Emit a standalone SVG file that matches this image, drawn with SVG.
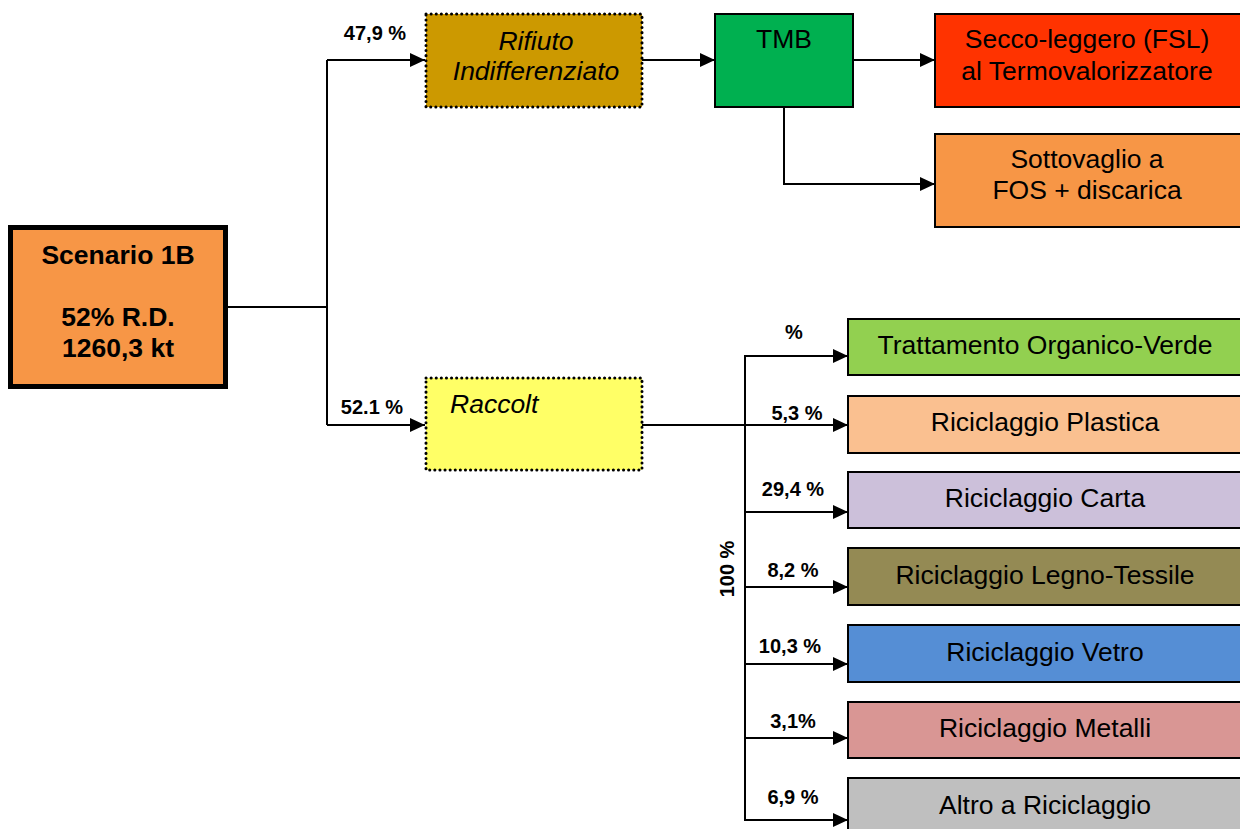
<svg xmlns="http://www.w3.org/2000/svg" width="1240" height="829" viewBox="0 0 1240 829">
<defs>
<marker id="ah" markerUnits="userSpaceOnUse" markerWidth="15" markerHeight="14" refX="15" refY="7" orient="auto">
<path d="M0,0 L15,7 L0,14 Z" fill="#000"/>
</marker>
<style>
.box{stroke:#000;stroke-width:2}
.dot{stroke:#000;stroke-width:3;stroke-dasharray:0.1 5;stroke-linecap:round}
.t{font-family:"Liberation Sans",Arial,sans-serif;font-size:26.5px;fill:#000;text-anchor:middle}
.i{font-style:italic}
.b{font-weight:bold}
.lbl{font-family:"Liberation Sans",Arial,sans-serif;font-size:20px;font-weight:bold;fill:#000;text-anchor:middle}
.c{fill:none;stroke:#000;stroke-width:2}
</style>
</defs>
<rect width="1240" height="829" fill="#fff"/>
<g id="connectors">
<path class="c" d="M228,307 H327"/>
<path class="c" d="M327,60 V425"/>
<path class="c" d="M327,60 H425" marker-end="url(#ah)"/>
<path class="c" d="M327,425 H425" marker-end="url(#ah)"/>
<path class="c" d="M642,60 H715" marker-end="url(#ah)"/>
<path class="c" d="M853,60 H935" marker-end="url(#ah)"/>
<path class="c" d="M784,107 V184 H935" marker-end="url(#ah)"/>
<path class="c" d="M642,425 H848" marker-end="url(#ah)"/>
<path class="c" d="M745,355 V821"/>
<path class="c" d="M745,356 H848" marker-end="url(#ah)"/>
<path class="c" d="M745,512 H848" marker-end="url(#ah)"/>
<path class="c" d="M745,587 H848" marker-end="url(#ah)"/>
<path class="c" d="M745,664 H848" marker-end="url(#ah)"/>
<path class="c" d="M745,738 H848" marker-end="url(#ah)"/>
<path class="c" d="M745,820 H848" marker-end="url(#ah)"/>
<text class="lbl" x="375" y="40">47,9 %</text>
<text class="lbl" x="372" y="414">52.1 %</text>
<text class="lbl" x="794" y="339">%</text>
<text class="lbl" x="797" y="420">5,3 %</text>
<text class="lbl" x="793" y="496">29,4 %</text>
<text class="lbl" x="793" y="577">8,2 %</text>
<text class="lbl" x="790" y="653">10,3 %</text>
<text class="lbl" x="793" y="728">3,1%</text>
<text class="lbl" x="793" y="804">6,9 %</text>
<text class="lbl" transform="translate(734,569) rotate(-90)">100 %</text>
</g>
<g id="scenario">
<rect x="10.5" y="227.5" width="215" height="159" fill="#F79646" stroke="#000" stroke-width="5"/>
<text class="t b" x="118" y="264">Scenario 1B</text>
<text class="t b" x="118" y="326">52% R.D.</text>
<text class="t b" x="118" y="357">1260,3 kt</text>
</g>
<g id="rifiuto">
<rect x="426" y="14" width="216" height="93" fill="#CC9900"/>
<rect class="dot" x="426" y="14" width="216" height="93" fill="none"/>
<text class="t i" x="536" y="50">Rifiuto</text>
<text class="t i" x="536" y="80">Indifferenziato</text>
</g>
<g id="raccolt">
<rect x="426" y="378" width="216" height="92" fill="#FFFF66"/>
<rect class="dot" x="426" y="378" width="216" height="92" fill="none"/>
<text class="t i" x="450" y="413" style="text-anchor:start">Raccolt</text>
</g>
<g id="tmb">
<rect class="box" x="715" y="14" width="138" height="93" fill="#00B050"/>
<text class="t" x="784" y="48">TMB</text>
</g>
<g id="secco">
<rect class="box" x="935" y="14" width="310" height="93" fill="#FF3300"/>
<text class="t" x="1087" y="48">Secco-leggero (FSL)</text>
<text class="t" x="1087" y="80">al Termovalorizzatore</text>
</g>
<g id="sottovaglio">
<rect class="box" x="935" y="134" width="310" height="93" fill="#F79646"/>
<text class="t" x="1087" y="168">Sottovaglio a</text>
<text class="t" x="1087" y="199">FOS + discarica</text>
</g>
<g id="organico">
<rect class="box" x="848" y="319" width="400" height="56" fill="#92D050"/>
<text class="t" x="1045" y="354">Trattamento Organico-Verde</text>
</g>
<g id="plastica">
<rect class="box" x="848" y="396" width="400" height="57" fill="#FAC090"/>
<text class="t" x="1045" y="431">Riciclaggio Plastica</text>
</g>
<g id="carta">
<rect class="box" x="848" y="472" width="400" height="56" fill="#CCC0DA"/>
<text class="t" x="1045" y="507">Riciclaggio Carta</text>
</g>
<g id="legno">
<rect class="box" x="848" y="548" width="400" height="57" fill="#948A54"/>
<text class="t" x="1045" y="584">Riciclaggio Legno-Tessile</text>
</g>
<g id="vetro">
<rect class="box" x="848" y="625" width="400" height="57" fill="#558ED5"/>
<text class="t" x="1045" y="661">Riciclaggio Vetro</text>
</g>
<g id="metalli">
<rect class="box" x="848" y="702" width="400" height="56" fill="#D99694"/>
<text class="t" x="1045" y="737">Riciclaggio Metalli</text>
</g>
<g id="altro">
<rect class="box" x="848" y="778" width="400" height="60" fill="#BFBFBF"/>
<text class="t" x="1045" y="814">Altro a Riciclaggio</text>
</g>
</svg>
